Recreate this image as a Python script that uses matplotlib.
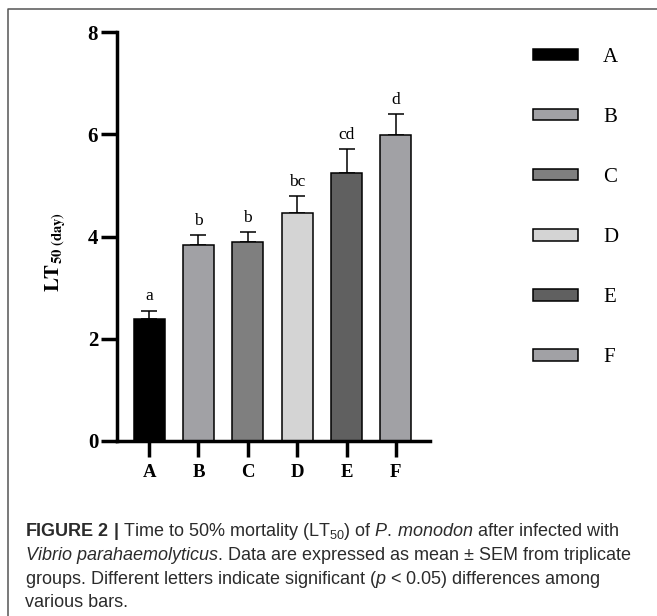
import numpy as np
import matplotlib
matplotlib.use("Agg")
import matplotlib.pyplot as plt
from matplotlib.patches import Patch
from matplotlib.lines import Line2D

# LT50 per group
groups = ["A", "B", "C", "D", "E", "F"]
lt50 = [2.38, 3.84, 3.89, 4.45, 5.25, 5.98]
sem = [0.17, 0.18, 0.19, 0.34, 0.46, 0.41]
letters = ["a", "b", "b", "bc", "cd", "d"]
colors = ["#000000", "#a1a1a5", "#7f7f7f", "#d4d4d4", "#606060", "#a1a1a5"]
yticks = [0, 2, 4, 6, 8]

plt.rcParams["mathtext.fontset"] = "custom"
plt.rcParams["mathtext.rm"] = "Liberation Sans"
plt.rcParams["mathtext.it"] = "Liberation Sans:italic"
plt.rcParams["mathtext.bf"] = "Liberation Sans:bold"

W, H = 657, 616
fig = plt.figure(figsize=(W / 100, H / 100), dpi=100)
ax = fig.add_axes([117 / W, 1 - 441 / H, (430 - 117) / W, (441 - 32) / H])

x = np.arange(len(groups))
ax.bar(x, lt50, width=0.63, color=colors, edgecolor="black", linewidth=1.1, zorder=2)
ax.errorbar(x, lt50, yerr=[np.zeros(len(sem)), sem], fmt="none", ecolor="black",
            elinewidth=1.1, capsize=5.8, capthick=1.1, zorder=1)
for xi, top, lab in zip(x, np.array(lt50) + np.array(sem), letters):
    ax.text(xi, top + 0.12, lab, ha="center", va="bottom", fontsize=12.5,
            family="Liberation Serif")

ax.set_xlim(-0.65, 5.69)
ax.set_ylim(0, 8)
ax.set_yticks(yticks)
ax.set_xticks(x)
ax.set_xticklabels(groups)
for s in ["top", "right"]:
    ax.spines[s].set_visible(False)
for s in ["left", "bottom"]:
    ax.spines[s].set_linewidth(2.5)
ax.tick_params(axis="both", width=2.5, length=11.5, direction="out")
ax.tick_params(axis="y", pad=2)
ax.tick_params(axis="x", pad=5)
for t in ax.get_yticklabels():
    t.set_family("Liberation Serif")
    t.set_weight("bold")
    t.set_fontsize(15)
for t in ax.get_xticklabels():
    t.set_family("Liberation Serif")
    t.set_weight("bold")
    t.set_fontsize(13.5)

ylab = ax.set_ylabel(r"$\mathbf{LT_{50\ (day)}}$", fontsize=15)
ylab.set_math_fontfamily("stix")
ax.yaxis.set_label_coords(-0.155, 0.462)

handles = [Patch(facecolor=c, edgecolor="black", linewidth=1.1) for c in colors]
fig.legend(handles, groups, loc="upper left", bbox_to_anchor=(533 / W, 1 - 48 / H),
           frameon=False, borderpad=0, borderaxespad=0, handlelength=2.16,
           handleheight=0.48, handletextpad=1.2, labelspacing=1.97,
           prop={"family": "Liberation Serif", "size": 15})

# frame of the figure panel (only top and left are inside the crop)
fig.add_artist(Line2D([8 / W, 8 / W, 1], [0, 1 - 9 / H, 1 - 9 / H],
                      transform=fig.transFigure, color="#555555", linewidth=1.1))

caption = [
    r"$\mathbf{FIGURE\ 2\ |}$ Time to 50% mortality (LT$_{50}$) of $\mathit{P.\!\ monodon}$ after infected with",
    r"$\mathit{Vibrio}$ $\mathit{parahaemolyticus}$. Data are expressed as mean $\pm$ SEM from triplicate",
    r"groups. Different letters indicate significant ($\mathit{p}$ < 0.05) differences among",
    "various bars.",
]
baselines = [536, 560, 583.5, 607]
for line, yb in zip(caption, baselines):
    fig.text(25 / W, 1 - yb / H, line, ha="left", va="baseline", fontsize=13.0,
             family="Liberation Sans", color="#2b2b2b")

fig.savefig("out.png", dpi=100)
